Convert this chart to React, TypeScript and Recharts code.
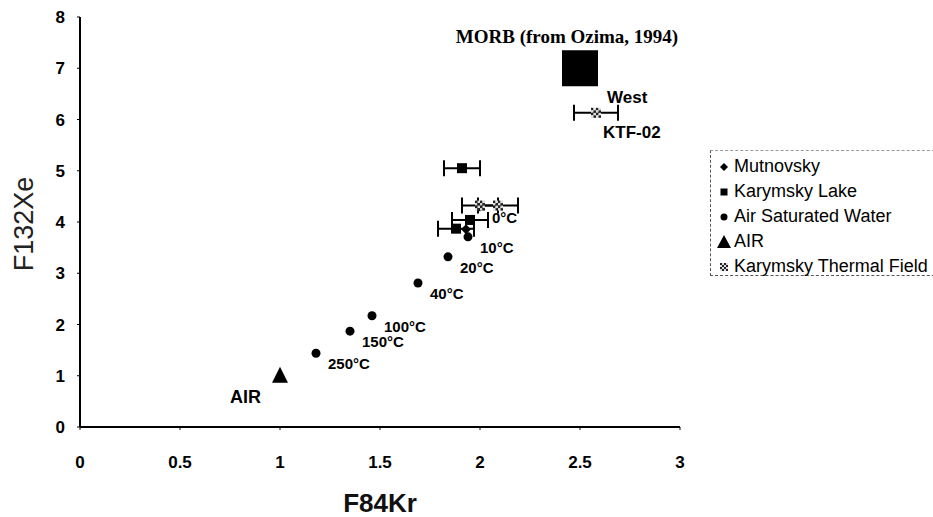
import { ScatterChart, Scatter, XAxis, YAxis, ErrorBar } from "recharts";

// F84Kr / F132Xe fractionation values
const mutnovskyX = [1.93];
const mutnovskyY = [3.86];

const lakeX = [1.91, 1.95, 1.88];
const lakeY = [5.05, 4.04, 3.87];
const lakeErr = [0.09, 0.09, 0.09];

const aswX = [2.0, 1.94, 1.84, 1.69, 1.46, 1.35, 1.18];
const aswY = [4.3, 3.71, 3.32, 2.81, 2.17, 1.87, 1.44];
const aswLabels = ["0°C", "10°C", "20°C", "40°C", "100°C", "150°C", "250°C"];

const airX = [1.0];
const airY = [1.0];

const ktfX = [2.58, 2.0, 2.09];
const ktfY = [6.13, 4.32, 4.32];
const ktfErr = [0.11, 0.09, 0.1];
const ktfLabels = ["KTF-02", "", ""];

const morbX = [2.5];
const morbY = [7.0];
const morbLabel = "MORB (from Ozima, 1994)";

const xTicks = [0, 0.5, 1, 1.5, 2, 2.5, 3];
const yTicks = [0, 1, 2, 3, 4, 5, 6, 7, 8];

const legendNames = [
  "Mutnovsky",
  "Karymsky Lake",
  "Air Saturated Water",
  "AIR",
  "Karymsky Thermal Field",
];

const sans = "'Liberation Sans', Arial, sans-serif";
const serif = "'Liberation Serif', 'Times New Roman', serif";

const mutnovsky = mutnovskyX.map((x, i) => ({ x, y: mutnovskyY[i] }));
const lake = lakeX.map((x, i) => ({ x, y: lakeY[i], err: lakeErr[i] }));
const asw = aswX.map((x, i) => ({ x, y: aswY[i], label: aswLabels[i] }));
const air = airX.map((x, i) => ({ x, y: airY[i] }));
const ktf = ktfX.map((x, i) => ({ x, y: ktfY[i], err: ktfErr[i], label: ktfLabels[i] }));
const morb = morbX.map((x, i) => ({ x, y: morbY[i], label: morbLabel }));

function Hatched({ cx, cy, s }: { cx: number; cy: number; s: number }) {
  const cells = [];
  const n = 4;
  const c = s / n;
  for (let r = 0; r < n; r++) {
    for (let k = 0; k < n; k++) {
      cells.push(
        <rect
          key={`${r}-${k}`}
          x={cx - s / 2 + k * c}
          y={cy - s / 2 + r * c}
          width={c}
          height={c}
          fill={(r + k) % 2 === 0 ? "#222" : "#ddd"}
        />
      );
    }
  }
  return <g>{cells}</g>;
}

function DiamondShape(p: any) {
  const { cx, cy } = p;
  const r = 5;
  return <path d={`M${cx},${cy - r}L${cx + r},${cy}L${cx},${cy + r}L${cx - r},${cy}Z`} fill="#000" />;
}

function SquareShape(p: any) {
  const { cx, cy } = p;
  return <rect x={cx - 5} y={cy - 5} width={10} height={10} fill="#000" />;
}

function AswShape(p: any) {
  const { cx, cy, payload } = p;
  return (
    <g>
      <circle cx={cx} cy={cy} r={4.5} fill="#000" />
      <text x={cx + 12} y={cy + 16} fontFamily={sans} fontWeight="bold" fontSize={15} fill="#000">
        {payload.label}
      </text>
    </g>
  );
}

function AirShape(p: any) {
  const { cx, cy } = p;
  return (
    <g>
      <path d={`M${cx},${cy - 9}L${cx + 8},${cy + 7}L${cx - 8},${cy + 7}Z`} fill="#000" />
      <text x={cx - 19} y={cy + 27} textAnchor="end" fontFamily={sans} fontWeight="bold" fontSize={18} fill="#000">
        AIR
      </text>
    </g>
  );
}

function KtfShape(p: any) {
  const { cx, cy, payload } = p;
  return (
    <g>
      <Hatched cx={cx} cy={cy} s={10} />
      {payload.label ? (
        <>
          <text x={cx + 11} y={cy - 10} fontFamily={sans} fontWeight="bold" fontSize={17} fill="#000">
            West
          </text>
          <text x={cx + 7} y={cy + 25} fontFamily={sans} fontWeight="bold" fontSize={17} fill="#000">
            {payload.label}
          </text>
        </>
      ) : null}
    </g>
  );
}

function MorbShape(p: any) {
  const { cx, cy, payload } = p;
  return (
    <g>
      <rect x={cx - 18} y={cy - 18} width={36} height={36} fill="#000" />
      <text x={cx - 13} y={cy - 25} textAnchor="middle" fontFamily={serif} fontWeight="bold" fontSize={19} fill="#000">
        {payload.label}
      </text>
    </g>
  );
}

function LegendMarker({ i }: { i: number }) {
  const c = 8;
  if (i === 0) return <path d={`M${c},${c - 4}L${c + 4},${c}L${c},${c + 4}L${c - 4},${c}Z`} fill="#000" />;
  if (i === 1) return <rect x={c - 3.5} y={c - 3.5} width={7} height={7} fill="#000" />;
  if (i === 2) return <circle cx={c} cy={c} r={3.5} fill="#000" />;
  if (i === 3) return <path d={`M${c},${c - 7}L${c + 7},${c + 6}L${c - 7},${c + 6}Z`} fill="#000" />;
  return <Hatched cx={c} cy={c} s={8} />;
}

export default function App() {
  const tickStyle = { fontFamily: sans, fontWeight: "bold", fontSize: 17, fill: "#000" };
  return (
    <div style={{ position: "absolute", left: 0, top: 0, width: 933, height: 517, background: "#fff" }}>
      <ScatterChart width={933} height={517} margin={{ top: 17, right: 253, bottom: 30, left: 20 }}>
        <XAxis
          type="number"
          dataKey="x"
          domain={[0, 3]}
          ticks={xTicks}
          interval={0}
          tick={tickStyle}
          tickSize={3}
          tickMargin={26}
          height={60}
          axisLine={{ stroke: "#000", strokeWidth: 2 }}
          tickLine={{ stroke: "#000" }}
          label={(props: any) => {
            const vb = props.viewBox;
            return (
              <text x={vb.x + vb.width / 2} y={512} textAnchor="middle" fontFamily={sans} fontWeight="bold" fontSize={26} fill="#111">
                F84Kr
              </text>
            );
          }}
        />
        <XAxis xAxisId="top" orientation="top" type="number" domain={[0, 3]} tick={false} tickLine={false} height={0} axisLine={{ stroke: "#000", strokeWidth: 2 }} />
        <YAxis
          type="number"
          dataKey="y"
          domain={[0, 8]}
          ticks={yTicks}
          interval={0}
          tick={tickStyle}
          tickSize={3}
          tickMargin={12}
          width={60}
          axisLine={{ stroke: "#000", strokeWidth: 2 }}
          tickLine={{ stroke: "#000" }}
          label={() => (
            <text x={33} y={224} transform="rotate(-90 33 224)" textAnchor="middle" fontFamily={sans} fontSize={27} fill="#222">
              F132Xe
            </text>
          )}
        />
        <YAxis yAxisId="right" orientation="right" type="number" domain={[0, 8]} tick={false} tickLine={false} width={0} axisLine={{ stroke: "#000", strokeWidth: 1.5 }} />
        <Scatter name="Mutnovsky" data={mutnovsky} shape={DiamondShape} isAnimationActive={false} />
        <Scatter name="Karymsky Lake" data={lake} shape={SquareShape} isAnimationActive={false}>
          <ErrorBar dataKey="err" direction="x" width={8} stroke="#000" strokeWidth={2} />
        </Scatter>
        <Scatter name="Air Saturated Water" data={asw} shape={AswShape} isAnimationActive={false} />
        <Scatter name="AIR" data={air} shape={AirShape} isAnimationActive={false} />
        <Scatter name="MORB" data={morb} shape={MorbShape} isAnimationActive={false} />
        <Scatter name="Karymsky Thermal Field" data={ktf} shape={KtfShape} isAnimationActive={false}>
          <ErrorBar dataKey="err" direction="x" width={8} stroke="#000" strokeWidth={2} />
        </Scatter>
      </ScatterChart>
      <div
        style={{
          position: "absolute",
          left: 710,
          top: 150,
          width: 240,
          height: 126,
          borderLeft: "1px dashed #555",
          borderTop: "1px dashed #999",
          borderBottom: "1px dashed #555",
          boxSizing: "border-box",
          paddingTop: 3,
          paddingLeft: 5,
        }}
      >
        {legendNames.map((n, i) => (
          <div key={n} style={{ display: "flex", alignItems: "center", height: 25, fontFamily: sans, fontSize: 18, color: "#000" }}>
            <svg width={16} height={16} style={{ marginRight: 2 }}>
              <LegendMarker i={i} />
            </svg>
            {n}
          </div>
        ))}
      </div>
    </div>
  );
}
